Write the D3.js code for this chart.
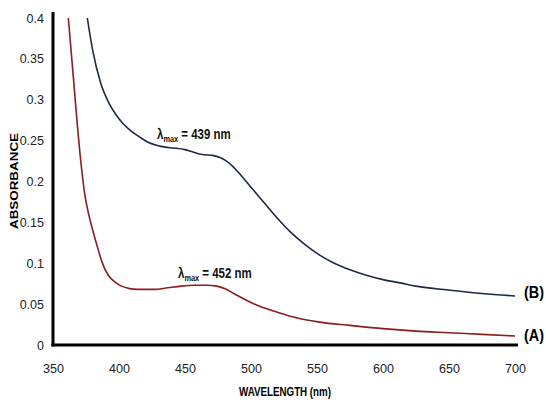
<!DOCTYPE html>
<html>
<head>
<meta charset="utf-8">
<script src="https://cdn.jsdelivr.net/npm/d3@7"></script>
<style>
  body { margin: 0; background: #fff; }
  svg text { font-family: "Liberation Sans Narrow", "Liberation Sans", Arial, sans-serif; }
</style>
</head>
<body>
<div id="chart"></div>
<script>
// spectrum (A) - wavelength / absorbance
const waveA = [361.6, 365.4, 368.5, 371.7, 374, 377, 380.5, 384, 387, 392, 397, 402, 408, 414, 427, 437, 447, 457, 467, 474, 480, 487, 495, 507, 520, 535, 552, 575, 600, 625, 650, 675, 700];
const absA  = [0.40, 0.328, 0.268, 0.215, 0.185, 0.160, 0.138, 0.118, 0.102, 0.085, 0.077, 0.072, 0.069, 0.068, 0.068, 0.070, 0.072, 0.073, 0.073, 0.072, 0.069, 0.063, 0.056, 0.047, 0.040, 0.033, 0.028, 0.024, 0.020, 0.017, 0.015, 0.013, 0.011];

// spectrum (B)
const waveB = [376, 380, 386, 393, 398, 403, 409, 416, 422, 429, 435, 441, 450, 456, 463, 471, 477, 483, 490, 500, 510, 520, 530, 540, 552, 562, 575, 588, 600, 613, 625, 651, 675, 700];
const absB  = [0.40, 0.361, 0.321, 0.294, 0.281, 0.271, 0.262, 0.254, 0.248, 0.244, 0.242, 0.241, 0.239, 0.236, 0.233, 0.232, 0.229, 0.223, 0.212, 0.193, 0.174, 0.155, 0.138, 0.124, 0.110, 0.101, 0.092, 0.085, 0.080, 0.076, 0.072, 0.067, 0.063, 0.060];

const xTicks = [350, 400, 450, 500, 550, 600, 650, 700];
const yTicks = [0, 0.05, 0.1, 0.15, 0.2, 0.25, 0.3, 0.35, 0.4];

const width = 546, height = 400;

const svg = d3.select('#chart')
    .append('svg')
    .attr('width', width)
    .attr('height', height);

const x = d3.scaleLinear().domain([350, 700]).range([53, 515]);
const y = d3.scaleLinear().domain([0, 0.4]).range([345, 18]);

// axes (labels only, no tick marks)
const xAxis = svg.append('g')
    .attr('transform', `translate(0,${y(0)})`)
    .call(d3.axisBottom(x).tickValues(xTicks).tickSize(0).tickPadding(19).tickFormat(d3.format('d')));
xAxis.select('.domain').remove();
xAxis.selectAll('text').attr('font-size', 12.5).attr('fill', '#222')
    .attr('textLength', 21).attr('lengthAdjust', 'spacingAndGlyphs');

const yAxis = svg.append('g')
    .attr('transform', `translate(${x(350)},0)`)
    .call(d3.axisLeft(y).tickValues(yTicks).tickSize(0).tickPadding(9).tickFormat(d => d === 0 ? '0' : String(+d.toFixed(2))));
yAxis.select('.domain').remove();
yAxis.selectAll('text').attr('font-size', 12.5).attr('fill', '#222');

// spectra
const line = d3.line()
    .x(d => x(d[0]))
    .y(d => y(d[1]))
    .curve(d3.curveMonotoneX);

svg.append('path')
    .datum(d3.zip(waveA, absA))
    .attr('fill', 'none')
    .attr('stroke', '#8b1c1f')
    .attr('stroke-width', 1.6)
    .attr('d', line);

svg.append('path')
    .datum(d3.zip(waveB, absB))
    .attr('fill', 'none')
    .attr('stroke', '#1e2944')
    .attr('stroke-width', 1.6)
    .attr('d', line);

// axis lines
svg.append('line')
    .attr('x1', x(350)).attr('x2', x(350))
    .attr('y1', y(0) + 1.5).attr('y2', 12)
    .attr('stroke', '#000').attr('stroke-width', 3);
svg.append('line')
    .attr('x1', x(350) - 1.5).attr('x2', 518)
    .attr('y1', y(0)).attr('y2', y(0))
    .attr('stroke', '#000').attr('stroke-width', 3);

// axis titles
svg.append('text')
    .attr('x', 285).attr('y', 396)
    .attr('text-anchor', 'middle')
    .attr('font-size', 12).attr('font-weight', 'bold')
    .attr('textLength', 92).attr('lengthAdjust', 'spacingAndGlyphs')
    .text('WAVELENGTH (nm)');

svg.append('text')
    .attr('transform', 'translate(18,181) rotate(-90)')
    .attr('text-anchor', 'middle')
    .attr('font-size', 11.5).attr('font-weight', 'bold')
    .attr('textLength', 96).attr('lengthAdjust', 'spacingAndGlyphs')
    .text('ABSORBANCE');

// lambda max annotations (squeezed horizontally like the condensed original font)
function lambdaLabel(px, py, nm) {
    const t = svg.append('g')
        .attr('transform', `translate(${px},${py}) scale(0.82,1)`)
        .append('text')
        .attr('font-size', 14).attr('font-weight', 'bold')
        .attr('fill', '#111');
    t.append('tspan').text('λ');
    t.append('tspan').attr('font-size', 9).attr('dy', 3).text('max');
    t.append('tspan').attr('dy', -3).text(` = ${nm} nm`);
}
lambdaLabel(157, 139, 439);
lambdaLabel(178, 278, 452);

// series labels
svg.append('text')
    .attr('x', 524).attr('y', 298)
    .attr('font-size', 16).attr('font-weight', 'bold')
    .attr('textLength', 20).attr('lengthAdjust', 'spacingAndGlyphs')
    .text('(B)');
svg.append('text')
    .attr('x', 524).attr('y', 341)
    .attr('font-size', 16).attr('font-weight', 'bold')
    .attr('textLength', 20).attr('lengthAdjust', 'spacingAndGlyphs')
    .text('(A)');
</script>
</body>
</html>
